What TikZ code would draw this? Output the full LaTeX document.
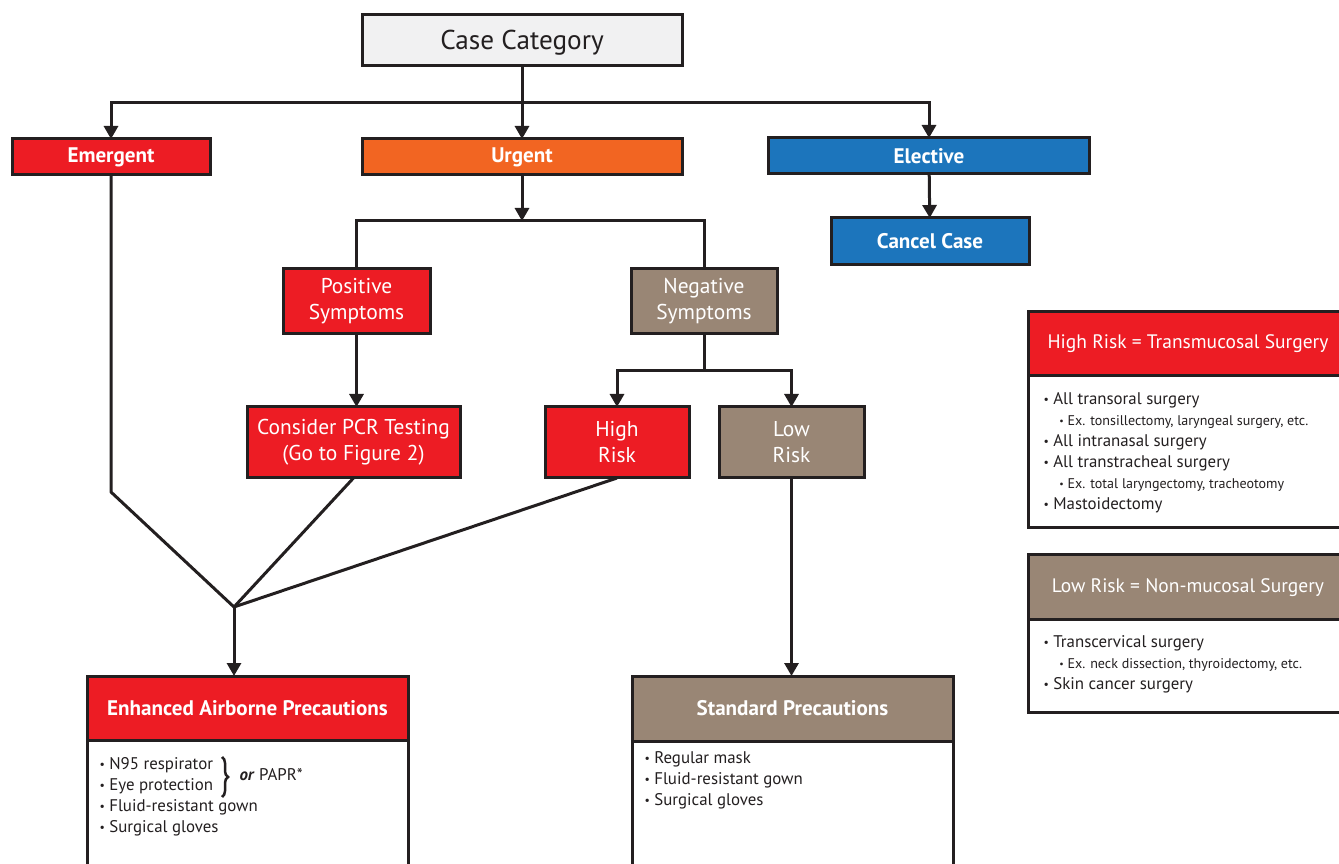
\documentclass[tikz,border=0pt]{standalone}
\usepackage{fontspec}
\setmainfont{PT Sans}
\usetikzlibrary{arrows.meta,decorations.pathreplacing}
\definecolor{emred}{HTML}{ED1C24}
\definecolor{urgorange}{HTML}{F26522}
\definecolor{elecblue}{HTML}{1C75BC}
\definecolor{riskbrown}{HTML}{998675}
\definecolor{catgray}{HTML}{F1F1F2}
\definecolor{linegray}{HTML}{231F20}
\newcommand{\px}{0.02cm}
\newcommand{\dotitem}{\raisebox{0.15ex}{\scalebox{0.7}{\textbullet}}\ }

\begin{document}
\begin{tikzpicture}[x=0.02cm,y=-0.02cm,line width=3*\px,draw=linegray,
    box/.style={rectangle,draw=linegray,line width=3*\px,inner sep=0pt,outer sep=0pt,text=white,align=center},
    boldlabel/.style={font=\fontsize{12}{14}\selectfont\bfseries},
    twolines/.style={font=\fontsize{12.2}{14.8}\selectfont},
    listtext/.style={anchor=north west,inner sep=0pt,align=left,font=\fontsize{9.6}{12}\selectfont,text=linegray},
    arr/.style={-{Triangle[length=13*\px,width=14*\px]}}]
    \clip (0,0) rectangle (1339,864);
    \node (casecat)  at (522.0,40.0)  [box,fill=catgray,text=linegray,text depth=0pt,minimum width=320*\px,minimum height=51*\px,font=\fontsize{15.5}{17}\selectfont] {Case Category};
    \node (emergent) at (111.0,157.0) [box,fill=emred,boldlabel,minimum width=198*\px,minimum height=36*\px] {Emergent};
    \node (urgent)   at (522.0,157.0) [box,fill=urgorange,boldlabel,minimum width=320*\px,minimum height=36*\px] {Urgent};
    \node (elective) at (929.0,156.0) [box,fill=elecblue,boldlabel,minimum width=321*\px,minimum height=36*\px] {Elective};
    \node (cancel)   at (930.0,241.5) [box,fill=elecblue,boldlabel,minimum width=198*\px,minimum height=47*\px] {Cancel Case};
    \node (positive) at (356.5,301.5) [box,fill=emred,twolines,minimum width=147*\px,minimum height=65*\px] {Positive\\Symptoms};
    \node (negative) at (704.0,301.5) [box,fill=riskbrown,twolines,minimum width=146*\px,minimum height=65*\px] {Negative\\Symptoms};
    \node (pcr)      at (353.5,442.5) [box,fill=emred,twolines,minimum width=213*\px,minimum height=71*\px] {Consider PCR Testing\\(Go to Figure 2)};
    \node (highrisk) at (617.0,442.5) [box,fill=emred,twolines,minimum width=144*\px,minimum height=71*\px] {High\\Risk};
    \node (lowrisk)  at (791.5,442.5) [box,fill=riskbrown,twolines,minimum width=145*\px,minimum height=71*\px] {Low\\Risk};
    \node (enhbody)  at (247.5,820.0) [box,fill=white,minimum width=321*\px,minimum height=160*\px] {};
    \node (enhhead)  at (247.5,708.0) [box,fill=emred,boldlabel,minimum width=321*\px,minimum height=64*\px] {Enhanced Airborne Precautions};
    \node (stdbody)  at (792.5,820.0) [box,fill=white,minimum width=321*\px,minimum height=160*\px] {};
    \node (stdhead)  at (792.5,708.5) [box,fill=riskbrown,boldlabel,minimum width=321*\px,minimum height=65*\px] {Standard Precautions};
    \node (hrbody)   at (1188.0,452.0) [box,fill=white,minimum width=320*\px,minimum height=152*\px] {};
    \node (hrhead)   at (1188.0,344.0) [box,fill=emred,minimum width=320*\px,minimum height=64*\px,font=\fontsize{11.1}{13}\selectfont] {High Risk = Transmucosal Surgery};
    \node (lrbody)   at (1188.0,666.0) [box,fill=white,minimum width=320*\px,minimum height=92*\px] {};
    \node (lrhead)   at (1188.0,587.5) [box,fill=riskbrown,minimum width=320*\px,minimum height=65*\px,font=\fontsize{11.1}{13}\selectfont] {Low Risk = Non-mucosal Surgery};
    \node (enhlist)  at (98,756)  [listtext] {\dotitem N95 respirator\\\dotitem Eye protection\\\dotitem Fluid-resistant gown\\\dotitem Surgical gloves};
    \node (papr)     at (238,775) [listtext,anchor=west] {\textbf{\textit{or}} PAPR*};
    \node (stdlist)  at (643,750) [listtext] {\dotitem Regular mask\\\dotitem Fluid-resistant gown\\\dotitem Surgical gloves};
    \node (hrlist)   at (1042,391) [listtext] {\dotitem All transoral surgery\\
        \hspace*{9pt}{\fontsize{8}{12}\selectfont\dotitem Ex. tonsillectomy, laryngeal surgery, etc.}\\
        \dotitem All intranasal surgery\\\dotitem All transtracheal surgery\\
        \hspace*{9pt}{\fontsize{8}{12}\selectfont\dotitem Ex. total laryngectomy, tracheotomy}\\
        \dotitem Mastoidectomy};
    \node (lrlist)   at (1042,634) [listtext] {\dotitem Transcervical surgery\\
        \hspace*{9pt}{\fontsize{8}{12}\selectfont\dotitem Ex. neck dissection, thyroidectomy, etc.}\\
        \dotitem Skin cancer surgery};
    \coordinate (split1) at (522,103);
    \coordinate (split2) at (522,221);
    \coordinate (split3) at (704,371);
    \coordinate (bend1)  at (111,492);
    \coordinate (merge)  at (234,607);
    \draw[decorate,decoration={brace,amplitude=6*\px},line width=2.5*\px] (222,757) -- (222,797);
    \draw (casecat) -- (split1);
    \draw[arr] (split1) -| (emergent);
    \draw[arr] (split1) -- (urgent);
    \draw[arr] (split1) -| (elective);
    \draw[arr] (elective) -- (cancel);
    \draw[arr] (urgent) -- (split2);
    \draw (positive) |- (split2) -| (negative);
    \draw[arr] (positive) -- (positive |- pcr.north);
    \draw (negative) -- (split3);
    \draw[arr] (split3) -| (highrisk);
    \draw[arr] (split3) -| (lowrisk);
    \draw[line join=round] (emergent) -- (bend1) -- (merge);
    \draw (pcr.south) -- (merge);
    \draw (highrisk.south) -- (merge);
    \draw[arr] (merge) -- (merge |- enhhead.north);
    \draw[arr] (lowrisk) -- (lowrisk |- stdhead.north);
\end{tikzpicture}
\end{document}
